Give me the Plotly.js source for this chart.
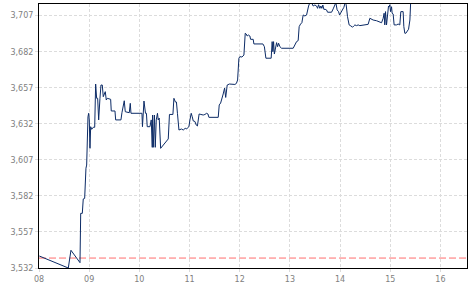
<!DOCTYPE html>
<html>
<head>
<meta charset="utf-8">
<script src="https://cdn.plot.ly/plotly-3.0.1.min.js"></script>
<style>html,body{margin:0;padding:0;background:#fff;}#chart{width:475px;height:287px;}</style>
</head>
<body>
<div id="chart"></div>
<script>
// time in hours of the day
var hours = [8.006,8.584,8.637,8.803,8.817,8.831,8.863,8.882,8.910,8.936,8.950,8.976,8.990,9.002,9.016,9.030,9.050,9.082,9.110,9.129,9.149,9.169,9.189,9.215,9.235,9.261,9.281,9.321,9.341,9.361,9.428,9.440,9.514,9.528,9.633,9.653,9.679,9.699,9.719,9.799,9.819,9.833,10.052,10.062,10.092,10.122,10.141,10.157,10.211,10.237,10.257,10.265,10.277,10.301,10.317,10.337,10.361,10.376,10.396,10.424,10.576,10.600,10.669,10.689,10.719,10.739,10.759,10.789,10.839,10.875,10.914,10.942,10.968,10.988,11.008,11.034,11.054,11.074,11.108,11.133,11.157,11.191,11.227,11.273,11.307,11.341,11.367,11.386,11.572,11.592,11.620,11.645,11.671,11.699,11.721,11.751,11.795,11.904,11.934,11.958,11.984,12.004,12.044,12.084,12.110,12.129,12.149,12.173,12.203,12.217,12.269,12.283,12.462,12.492,12.522,12.627,12.647,12.661,12.675,12.691,12.715,12.735,12.755,12.775,12.801,12.835,13.066,13.100,13.133,13.165,13.185,13.213,13.239,13.265,13.299,13.333,13.353,13.373,13.398,13.432,13.464,13.498,13.532,13.552,13.572,13.598,13.618,13.637,13.657,13.677,13.703,13.731,13.751,13.831,13.863,13.896,13.916,13.942,13.970,13.990,14.016,14.050,14.076,14.102,14.122,14.149,14.181,14.215,14.249,14.275,14.295,14.329,14.361,14.394,14.460,14.528,14.560,14.594,14.627,14.659,14.727,14.793,14.827,14.859,14.878,14.892,14.906,14.926,14.946,14.966,14.978,14.992,15.006,15.026,15.038,15.058,15.078,15.125,15.157,15.191,15.211,15.257,15.271,15.291,15.311,15.345,15.365,15.392,15.396,15.410];
var prices = [3.5403,3.5320,3.5443,3.5362,3.5357,3.5699,3.5699,3.5799,3.5803,3.6012,3.6034,3.6369,3.6393,3.6347,3.6150,3.6300,3.6282,3.6296,3.6296,3.6596,3.6497,3.6497,3.6347,3.6497,3.6589,3.6589,3.6508,3.6543,3.6485,3.6497,3.6490,3.6409,3.6409,3.6347,3.6347,3.6397,3.6439,3.6480,3.6404,3.6397,3.6462,3.6393,3.6393,3.6300,3.6478,3.6393,3.6393,3.6300,3.6300,3.6347,3.6157,3.6381,3.6157,3.6381,3.6157,3.6347,3.6393,3.6347,3.6360,3.6150,3.6215,3.6385,3.6385,3.6497,3.6471,3.6471,3.6393,3.6277,3.6284,3.6277,3.6289,3.6284,3.6295,3.6301,3.6347,3.6393,3.6369,3.6340,3.6336,3.6312,3.6305,3.6388,3.6385,3.6381,3.6385,3.6393,3.6388,3.6365,3.6365,3.6451,3.6464,3.6506,3.6527,3.6568,3.6503,3.6589,3.6596,3.6593,3.6600,3.6624,3.6775,3.6786,3.6783,3.6797,3.6948,3.6943,3.6929,3.6936,3.6929,3.6906,3.6906,3.6874,3.6874,3.6855,3.6775,3.6775,3.6890,3.6820,3.6890,3.6804,3.6855,3.6883,3.6855,3.6879,3.6855,3.6844,3.6844,3.6867,3.6890,3.6897,3.6994,3.7012,3.7021,3.7075,3.7068,3.7075,3.7110,3.7137,3.7160,3.7160,3.7137,3.7144,3.7137,3.7121,3.7146,3.7121,3.7137,3.7121,3.7144,3.7114,3.7114,3.7110,3.7094,3.7094,3.7117,3.7144,3.7160,3.7110,3.7098,3.7075,3.7091,3.7110,3.7128,3.7160,3.7146,3.7063,3.7006,3.6999,3.6990,3.6999,3.7006,3.7001,3.7006,3.7001,3.7006,3.7010,3.7010,3.7052,3.7045,3.7040,3.7035,3.7028,3.7021,3.7052,3.7087,3.7006,3.7098,3.7006,3.7087,3.7137,3.7132,3.7146,3.7098,3.7132,3.7087,3.7082,3.7006,3.7006,3.7012,3.7006,3.7098,3.7098,3.6994,3.6948,3.6948,3.6971,3.6976,3.7040,3.7132,3.7185];
var referenceLevel = 3.5389;
var yTickVals = [3.532,3.557,3.582,3.607,3.632,3.657,3.682,3.707];
var xTickVals = [8,9,10,11,12,13,14,15,16];
var xTickText = ["08","09","10","11","12","13","14","15","16"];
var xRange = [8, 16.53];
var yRange = [3.532, 3.7151];

var traces = [
  {x: xRange, y: [referenceLevel, referenceLevel], type: 'scatter', mode: 'lines',
   line: {color: '#ff6e6e', width: 1, dash: '7px,3px'}, hoverinfo: 'skip', showlegend: false},
  {x: hours, y: prices, type: 'scatter', mode: 'lines',
   line: {color: '#0c2b66', width: 1}, showlegend: false}
];

var axisFont = {family: 'DejaVu Sans, sans-serif', size: 8, color: '#808080'};
var layout = {
  width: 475, height: 287,
  margin: {l: 39, r: 8, t: 4, b: 19, pad: 0},
  paper_bgcolor: '#ffffff', plot_bgcolor: '#ffffff',
  separators: ',.',
  showlegend: false,
  xaxis: {
    range: xRange, tickvals: xTickVals, ticktext: xTickText,
    showgrid: true, gridcolor: '#dcdcdc', griddash: '3px,2px', gridwidth: 1,
    zeroline: false, showline: true, linecolor: '#000000', linewidth: 1, mirror: true,
    ticks: 'outside', ticklen: 3, tickcolor: '#dcdcdc', tickfont: axisFont
  },
  yaxis: {
    range: yRange, tickvals: yTickVals, tickformat: '.3f',
    showgrid: true, gridcolor: '#dcdcdc', griddash: '3px,2px', gridwidth: 1,
    zeroline: false, showline: true, linecolor: '#000000', linewidth: 1, mirror: true,
    ticks: 'outside', ticklen: 3, tickcolor: '#dcdcdc', tickfont: axisFont
  }
};
Plotly.newPlot('chart', traces, layout, {displayModeBar: false, staticPlot: true});
</script>
</body>
</html>
